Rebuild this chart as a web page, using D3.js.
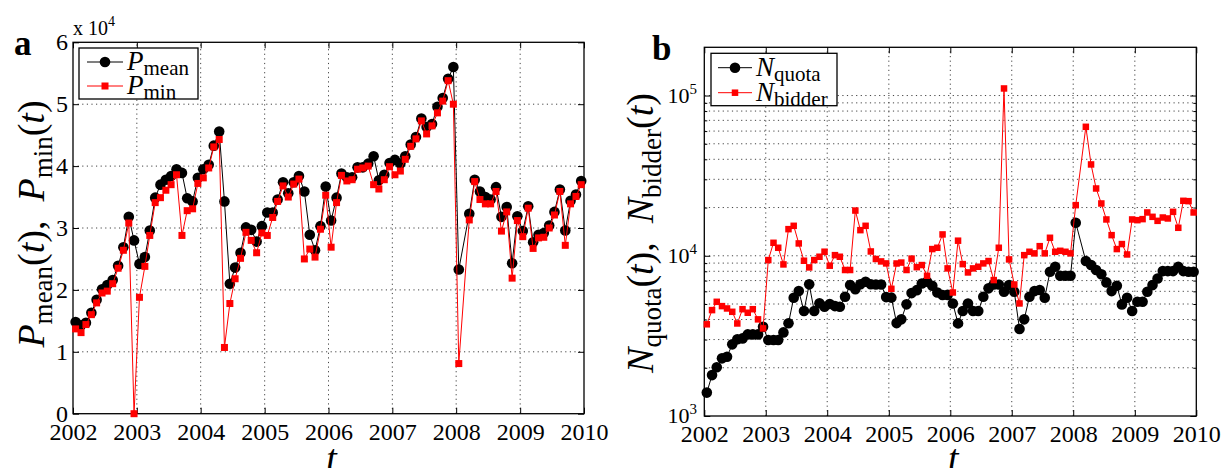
<!DOCTYPE html>
<html>
<head>
<meta charset="utf-8">
<script src="https://cdn.jsdelivr.net/npm/d3@7"></script>
<style>
body { margin: 0; background: #fff; }
svg { display: block; }
svg text { font-family: "Liberation Serif", "DejaVu Serif", serif !important; }
.grid { stroke: #444; stroke-width: 1; stroke-dasharray: 1.2,3.4; }
</style>
</head>
<body>
<svg id="chart" width="1223" height="468"></svg>
<script>
// monthly values, Jan 2002 .. Dec 2009 (no auction Feb 2008)
var years = [2002, 2003, 2004, 2005, 2006, 2007, 2008, 2009, 2010];
var pTicks = [0, 10000, 20000, 30000, 40000, 50000, 60000];
var nTicks = [1000, 10000, 100000];

var pMean = [
  14800, 14300, 14700, 16300, 18400, 20100, 20800, 21600, 23900, 26900, 31800, 28000,
  24200, 25300, 29600, 34900, 37000, 37800, 38400, 39500, 38900, 34800, 34300, 38100,
  39500, 40200, 43300, 45600, 34300, 21000, 23600, 26000, 30100, 29700, 27800, 30300,
  32500, 32500, 34600, 37400, 35600, 37400, 38400, 35900, 28900, 26400, 30300, 36700,
  31200, 34900, 38800, 38200, 38200, 39800, 39800, 40400, 41600, 37700, 38600, 40500,
  41000, 40400, 41600, 43500, 44700, 47700, 46300, 46800, 49600, 51000, 54100, 56000,
  23300, null, 32300, 37800, 35900, 35000, 34600, 36600, 31800, 33400, 24300, 31900,
  29500, 33500, 27700, 28900, 29200, 30400, 32600, 36200, 29600, 34400, 35400, 37600
];
var pMin = [
  13700, 13100, 14400, 16000, 17900, 19500, 19800, 21000, 23500, 26400, 30800, 0,
  18800, 23800, 28800, 34100, 34900, 36100, 37000, 38600, 28800, 32800, 33100, 37200,
  38100, 39700, 43100, 44300, 10700, 17800, 21800, 25100, 29300, 28000, 26000, 29200,
  28800, 31700, 34300, 36800, 35000, 37100, 37900, 25000, 26600, 25300, 29800, 35300,
  26900, 34100, 38500, 37600, 37800, 39500, 39700, 40000, 37000, 36300, 37800, 39900,
  38600, 39200, 41100, 43200, 44400, 47300, 45200, 46500, 48600, 50500, 53800, 50000,
  8100, null, 31300, 37500, 34600, 33900, 33900, 35900, 29500, 32600, 21900, 31200,
  28600, 33200, 26700, 28400, 28500, 30000, 32100, 35900, 27200, 33900, 35100, 37000
];
var nQuota = [
  1400, 1800, 2015, 2290, 2345, 2800, 3010, 3050, 3230, 3230, 3230, 3600,
  2980, 2980, 2980, 3325, 3790, 5470, 6020, 4520, 6630, 4520, 5050, 4810,
  5000, 4850, 4810, 5545, 6560, 6180, 6640, 6880, 6640, 6620, 6620, 5520,
  5480, 3800, 4010, 4975, 5850, 6100, 6720, 6880, 6500, 5900, 5685, 5700,
  5040, 3785, 4520, 5040, 4520, 4520, 5545, 6260, 6620, 6620, 5960, 6560,
  5960, 3490, 4010, 5545, 6020, 6110, 5470, 7945, 8540, 7500, 7500, 7500,
  16070, null, 9270, 8750, 8150, 7660, 6820, 6020, 6500, 4970, 5470, 4520,
  5160, 5160, 5960, 6560, 7220, 8020, 8020, 8020, 8540, 8020, 7945, 7945
];
var nBidder = [
  3735, 4580, 5160, 4850, 4690, 4470, 3780, 4640, 4410, 4640, 4010, 3520,
  9400, 12050, 11220, 8830, 14660, 15380, 11940, 9310, 8460, 9400, 9860, 10600,
  8670, 10090, 9860, 8150, 8150, 19150, 14450, 15380, 10640, 9550, 9220, 8960,
  6220, 8950, 9070, 8150, 9600, 8490, 8750, 7500, 11010, 11220, 13590, 8340,
  5900, 12420, 8870, 7870, 8340, 8540, 8960, 9270, 7050, 11220, 110700, 9490,
  6620, 5040, 10090, 10590, 10350, 11480, 10350, 12950, 10590, 10740, 10590, 10350,
  20700, null, 63800, 37150, 26300, 21200, 16850, 13450, 11010, 11830, 10190, 16850,
  16680, 16930, 18630, 17500, 16520, 17330, 17090, 18800, 14950, 22030, 21920, 18630
];

var svg = d3.select("#chart");
var months = d3.timeMonth.range(new Date(2002, 0, 1), new Date(2010, 0, 1));
var mid = months.map(function(m) { return d3.timeDay.offset(m, 15); });
var yearDates = years.map(function(y) { return new Date(y, 0, 1); });

function pairs(vals) {
  return vals.map(function(v, i) { return [mid[i], v]; })
    .filter(function(d) { return d[1] !== null; });
}

// text made of pieces: {t, i: italic, sub: dy for subscript, sup: dy for superscript}
function addMath(text, parts, small) {
  var shift = 0;
  parts.forEach(function(p) {
    var ts = text.append("tspan").text(p.t);
    if (p.i) ts.attr("font-style", "italic");
    var off = p.sub || p.sup || 0;
    if (off) ts.attr("font-size", small);
    if (off !== shift) ts.attr("dy", off - shift);
    shift = off;
  });
}

function drawPanel(cfg) {
  var g = svg.append("g");
  var x = d3.scaleTime().domain([yearDates[0], yearDates[8]]).range(cfg.xr);
  var y = cfg.y;
  var x0 = cfg.xr[0], x1 = cfg.xr[1];
  var yb = y.range()[0], yt = y.range()[1];

  // grid
  g.append("g").selectAll("line").data(yearDates.slice(1, -1)).join("line")
    .attr("class", "grid")
    .attr("x1", function(d) { return x(d); }).attr("x2", function(d) { return x(d); })
    .attr("y1", yb).attr("y2", yt);
  g.append("g").selectAll("line").data(cfg.gridY).join("line")
    .attr("class", "grid")
    .attr("x1", x0).attr("x2", x1)
    .attr("y1", function(d) { return y(d); }).attr("y2", function(d) { return y(d); });

  // axes, ticks inward on all sides
  var bottom = g.append("g").attr("transform", "translate(0," + yb + ")")
    .call(d3.axisBottom(x).tickValues(yearDates).tickFormat(d3.timeFormat("%Y"))
      .tickSizeInner(-6).tickSizeOuter(0));
  bottom.selectAll("text").attr("y", cfg.xLabelDy).attr("dy", 0)
    .attr("font-size", 24).attr("fill", "#000");
  g.append("g").attr("transform", "translate(0," + yt + ")")
    .call(d3.axisTop(x).tickValues(yearDates).tickFormat("").tickSizeInner(-6).tickSizeOuter(0));

  var left = g.append("g").attr("transform", "translate(" + x0 + ",0)")
    .call(d3.axisLeft(y).tickValues(cfg.ticksY).tickFormat(cfg.fmtY).tickSizeInner(-6).tickSizeOuter(0).tickPadding(5));
  left.selectAll("text").attr("font-size", 24).attr("fill", "#000");
  g.append("g").attr("transform", "translate(" + x1 + ",0)")
    .call(d3.axisRight(y).tickValues(cfg.ticksY).tickFormat("").tickSizeInner(-6).tickSizeOuter(0));
  if (cfg.minorY) {
    g.append("g").attr("transform", "translate(" + x0 + ",0)")
      .call(d3.axisLeft(y).tickValues(cfg.minorY).tickFormat("").tickSizeInner(-3).tickSizeOuter(0));
    g.append("g").attr("transform", "translate(" + x1 + ",0)")
      .call(d3.axisRight(y).tickValues(cfg.minorY).tickFormat("").tickSizeInner(-3).tickSizeOuter(0));
  }
  g.selectAll(".domain").remove();
  g.selectAll(".tick line").attr("stroke", "#000");
  g.append("rect").attr("x", x0).attr("y", yt).attr("width", x1 - x0).attr("height", yb - yt)
    .attr("fill", "none").attr("stroke", "#000").attr("stroke-width", 1.3);

  // series
  var line = d3.line().x(function(d) { return x(d[0]); }).y(function(d) { return y(d[1]); });
  var s1 = pairs(cfg.s1), s2 = pairs(cfg.s2);
  g.append("path").datum(s1).attr("d", line).attr("fill", "none").attr("stroke", "#000").attr("stroke-width", 1);
  g.append("g").selectAll("circle").data(s1).join("circle")
    .attr("cx", function(d) { return x(d[0]); }).attr("cy", function(d) { return y(d[1]); })
    .attr("r", 5.3).attr("fill", "#000");
  g.append("path").datum(s2).attr("d", line).attr("fill", "none").attr("stroke", "#f00").attr("stroke-width", 1);
  g.append("g").selectAll("rect").data(s2).join("rect")
    .attr("x", function(d) { return x(d[0]) - cfg.sq / 2; }).attr("y", function(d) { return y(d[1]) - cfg.sq / 2; })
    .attr("width", cfg.sq).attr("height", cfg.sq).attr("fill", "#f00");

  // legend
  var L = cfg.legend;
  var lg = g.append("g");
  lg.append("rect").attr("x", L.x).attr("y", L.y).attr("width", L.w).attr("height", L.h)
    .attr("fill", "#fff").attr("stroke", "#000").attr("stroke-width", 1.3);
  [0, 1].forEach(function(k) {
    var ly = L.rows[k];
    lg.append("line").attr("x1", L.lx0).attr("x2", L.lx1).attr("y1", ly).attr("y2", ly)
      .attr("stroke", k ? "#f00" : "#000").attr("stroke-width", 1);
    var mx = (L.lx0 + L.lx1) / 2;
    if (k === 0) lg.append("circle").attr("cx", mx).attr("cy", ly).attr("r", 5.3).attr("fill", "#000");
    else lg.append("rect").attr("x", mx - cfg.sq / 2).attr("y", ly - cfg.sq / 2)
      .attr("width", cfg.sq).attr("height", cfg.sq).attr("fill", "#f00");
    var t = lg.append("text").attr("x", L.tx).attr("y", ly + 8).attr("font-size", 27);
    addMath(t, [{t: L.sym, i: true}, {t: L.names[k], sub: 5}], 21);
  });

  // y label
  var yl = g.append("text").attr("text-anchor", "middle").attr("font-size", 38)
    .attr("transform", "translate(" + cfg.ylab[0] + "," + cfg.ylab[1] + ") rotate(-90)");
  addMath(yl, [
    {t: cfg.sym, i: true}, {t: cfg.names[0], sub: 8}, {t: "("}, {t: "t", i: true}, {t: "),\u2002"},
    {t: cfg.sym, i: true}, {t: cfg.names[1], sub: 8}, {t: "("}, {t: "t", i: true}, {t: ")"}
  ], 27);

  // x label
  g.append("text").attr("x", (x0 + x1) / 2 + 3).attr("y", 471).attr("text-anchor", "middle")
    .attr("font-size", 38).attr("font-style", "italic").text("t");

  // panel letter
  g.append("text").attr("x", cfg.letter[0]).attr("y", cfg.letter[1]).attr("font-size", 35)
    .attr("font-weight", "bold").text(cfg.letterText);
  return g;
}

var decades = [1000, 10000, 100000];
var logGrid = [];
decades.forEach(function(d) {
  [1, 2, 3, 4, 5, 6, 7, 8, 9].forEach(function(m) { if (d * m < 200000) logGrid.push(d * m); });
});

var gA = drawPanel({
  xr: [73, 584],
  y: d3.scaleLinear().domain([0, 60000]).range([413.7, 42.3]),
  ticksY: pTicks,
  gridY: pTicks.slice(1, -1),
  fmtY: function(d) { return d / 10000; },
  xLabelDy: 26,
  s1: pMean, s2: pMin, sq: 7,
  legend: {x: 79, y: 48, w: 119, h: 51, rows: [62, 86], lx0: 87, lx1: 123, tx: 127, sym: "P", names: ["mean", "min"]},
  sym: "P", names: ["mean", "min"], ylab: [44, 224],
  letter: [14, 55], letterText: "a"
});
var xe = gA.append("text").attr("x", 73).attr("y", 35).attr("font-size", 20);
addMath(xe, [{t: "x 10"}, {t: "4", sup: -9}], 14);

var gB = drawPanel({
  xr: [704.3, 1196.3],
  y: d3.scaleLog().domain([1000, 200000]).range([416, 47.3]),
  ticksY: nTicks,
  gridY: logGrid.filter(function(d) { return d > 1000; }),
  minorY: logGrid.filter(function(d) { return nTicks.indexOf(d) < 0; }),
  fmtY: function() { return ""; },
  xLabelDy: 26,
  s1: nQuota, s2: nBidder, sq: 6.5,
  legend: {x: 711, y: 53.3, w: 126, h: 52.4, rows: [67.7, 92.7], lx0: 718, lx1: 752, tx: 756, sym: "N", names: ["quota", "bidder"]},
  sym: "N", names: ["quota", "bidder"], ylab: [653, 233],
  letter: [652, 60], letterText: "b"
});
var yB = d3.scaleLog().domain([1000, 200000]).range([416, 47.3]);
nTicks.forEach(function(v) {
  var t = gB.append("text").attr("x", 697).attr("y", yB(v) + 7).attr("text-anchor", "end").attr("font-size", 22);
  addMath(t, [{t: "10"}, {t: String(Math.round(Math.log10(v))), sup: -9}], 15);
});
</script>
</body>
</html>
